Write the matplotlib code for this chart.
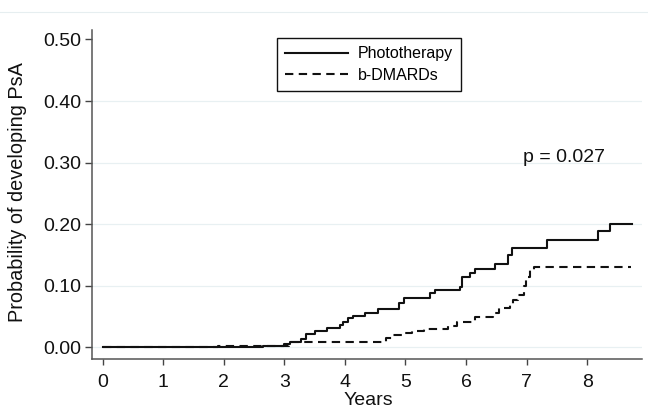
import matplotlib
matplotlib.use("Agg")
from matplotlib import pyplot as plt
from matplotlib.lines import Line2D

# Kaplan-Meier style cumulative incidence
photo_years = [0, 2.65, 3.0, 3.1, 3.27, 3.35, 3.5, 3.7, 3.92, 3.97, 4.05, 4.13, 4.33, 4.55,
               4.9, 4.98, 5.41, 5.49, 5.9, 5.93, 6.07, 6.15, 6.48, 6.7, 6.76, 7.33, 8.18, 8.38, 8.74]
photo_prob = [0, 0.003, 0.005, 0.009, 0.013, 0.022, 0.026, 0.031, 0.036, 0.041, 0.047, 0.051, 0.056, 0.062,
              0.072, 0.080, 0.088, 0.093, 0.098, 0.114, 0.121, 0.128, 0.135, 0.150, 0.162, 0.174, 0.189, 0.201, 0.201]

bio_years = [0, 1.9, 3.08, 4.68, 4.8, 4.95, 5.1, 5.3, 5.7, 5.85, 6.15, 6.45, 6.55,
             6.73, 6.78, 6.86, 6.95, 6.99, 7.05, 7.12, 8.72]
bio_prob = [0, 0.003, 0.009, 0.015, 0.020, 0.023, 0.027, 0.030, 0.035, 0.042, 0.050, 0.056, 0.064,
            0.070, 0.077, 0.085, 0.100, 0.114, 0.126, 0.130, 0.130]

series_names = ["Phototherapy", "b-DMARDs"]
x_ticks = list(range(0, 9))
y_ticks = [0.0, 0.1, 0.2, 0.3, 0.4, 0.5]
p_text = "p = 0.027"


def main():
    plt.rcParams['font.family'] = ['Liberation Sans', 'DejaVu Sans']
    fig = plt.figure(figsize=(6.48, 4.08), dpi=100)
    ax = fig.add_axes([0.142, 0.121, 0.849, 0.805])

    # faint frame line near the top of the graph region
    fig.add_artist(Line2D([0, 1], [0.971, 0.971], transform=fig.transFigure, color='#e6eef0', lw=0.8))

    for y in y_ticks[:-1]:
        ax.axhline(y, color='#e8f0f2', lw=0.9, zorder=0)

    dash = (4, 2.6)
    ax.step(photo_years, photo_prob, where='post', color='#111111', lw=1.5, label=series_names[0])
    ax.step(bio_years, bio_prob, where='post', color='#111111', lw=1.5, linestyle=(0, dash), label=series_names[1])

    ax.set_xlim(-0.177, 8.91)
    ax.set_ylim(-0.0182, 0.515)
    ax.set_xticks(x_ticks)
    ax.set_yticks(y_ticks)
    ax.set_yticklabels([f"{v:.2f}" for v in y_ticks])
    ax.tick_params(axis='both', labelsize=14, colors='#444444', labelcolor='#111111', width=1.0)
    ax.tick_params(axis='x', length=4.5, pad=6.5)
    ax.tick_params(axis='y', length=5, pad=3)

    for side in ['top', 'right']:
        ax.spines[side].set_visible(False)
    for side in ['left', 'bottom']:
        ax.spines[side].set_color('#555555')
        ax.spines[side].set_linewidth(1.1)

    ax.set_ylabel("Probability of developing PsA", fontsize=14.3, color='#111111')
    ax.yaxis.set_label_coords(-0.118, 0.506)
    ax.set_xlabel("Years", fontsize=14, color='#111111')
    ax.xaxis.set_label_coords(0.503, -0.102)

    ax.text(6.94, 0.309, p_text, fontsize=14, color='#111111', ha='left', va='center')

    leg = ax.legend(loc='upper left', bbox_to_anchor=(0.337, 0.975), fontsize=11.5,
                    handlelength=3.9, handletextpad=0.63, borderpad=0.5, labelspacing=0.4,
                    fancybox=False, framealpha=1, edgecolor='#111111', borderaxespad=0)
    leg.get_frame().set_linewidth(1.0)

    fig.savefig("out.png", dpi=100)


if __name__ == '__main__':
    main()
